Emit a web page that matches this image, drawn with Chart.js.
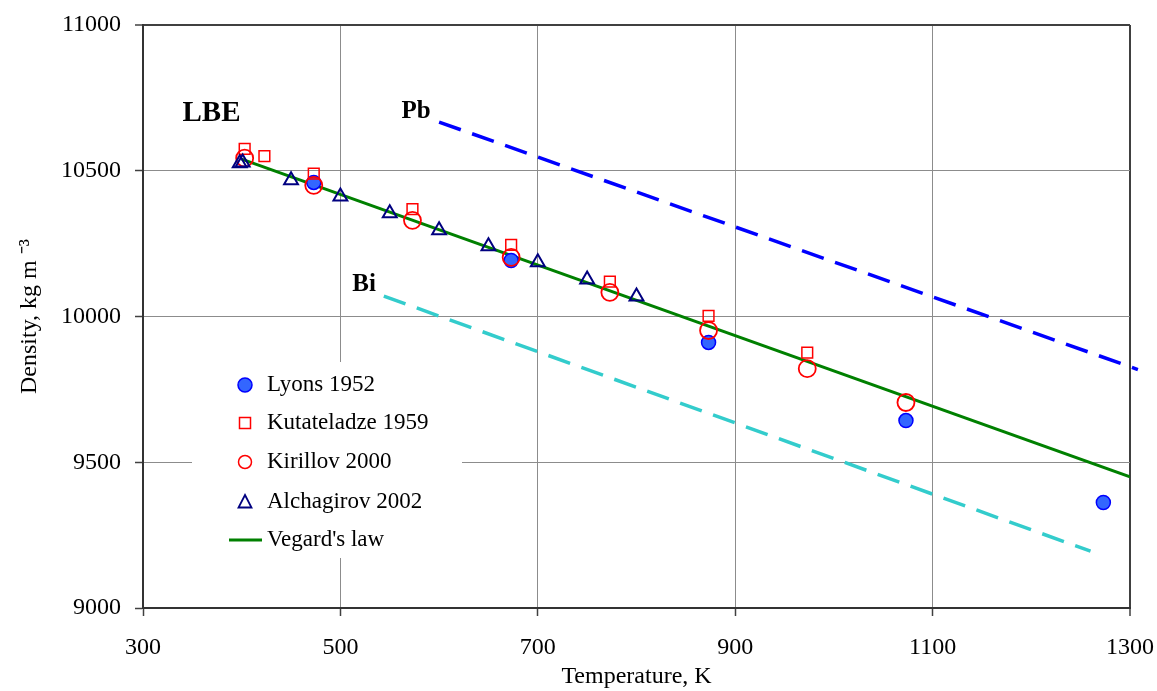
<!DOCTYPE html>
<html>
<head>
<meta charset="utf-8">
<script src="https://cdn.jsdelivr.net/npm/chart.js@4.4.1/dist/chart.umd.min.js"></script>
<style>
  html, body { margin: 0; padding: 0; background: #ffffff; }
  #caja { width: 1157px; height: 691px; }
</style>
</head>
<body>
<div id="caja"><canvas id="graficaDensidad" width="1157" height="691"></canvas></div>
<script>
// Datos (temperatura en K, densidad en kg/m3)
const lyonsT = [473, 673, 873, 1073, 1273];
const lyonsRho = [10460, 10192, 9911, 9643, 9362];

const kutateladzeT = [403, 423, 473, 573, 673, 773, 873, 973];
const kutateladzeRho = [10575, 10550, 10490, 10368, 10246, 10120, 10002, 9876];

const kirillovT = [403, 473, 573, 673, 773, 873, 973, 1073];
const kirillovRho = [10543, 10450, 10330, 10203, 10083, 9952, 9821, 9705];

const alchagirovT = [398, 401, 450, 500, 550, 600, 650, 700, 750, 800];
const alchagirovRho = [10526, 10528, 10467, 10412, 10354, 10296, 10241, 10186, 10127, 10069];

const vegardT = [400, 1300];
const vegardRho = [10540, 9450];

const pbT = [600, 1308];
const pbRho = [10667, 9818];

const biT = [544, 1260];
const biRho = [10070, 9195];

const ticksX = [300, 500, 700, 900, 1100, 1300];
const ticksY = [9000, 9500, 10000, 10500, 11000];

// Etiquetas dentro de la gráfica
const etiquetas = [
  { texto: "LBE", t: 340, rho: 10670, tam: 29 },
  { texto: "Pb", t: 562, rho: 10680, tam: 25 },
  { texto: "Bi", t: 512, rho: 10086, tam: 25 }
];

const nombres = ["Lyons 1952", "Kutateladze 1959", "Kirillov 2000", "Alchagirov 2002", "Vegard's law"];

const fuente = "'Liberation Serif', 'Times New Roman', serif";

function puntos(xs, ys) {
  return xs.map((x, i) => ({ x: x, y: ys[i] }));
}

/* LEYENDA */
function circulo(ctx, x, y, r, relleno, borde, ancho) {
  ctx.beginPath();
  ctx.arc(x, y, r, 0, Math.PI * 2);
  if (relleno) { ctx.fillStyle = relleno; ctx.fill(); }
  ctx.lineWidth = ancho;
  ctx.strokeStyle = borde;
  ctx.stroke();
}

const leyenda = {
  id: "leyenda",
  beforeDatasetsDraw(chart) {
    const ctx = chart.ctx;
    ctx.save();
    ctx.fillStyle = "#ffffff";
    ctx.fillRect(192, 362, 270, 196);

    const filas = [385, 423, 462, 502, 540];
    const mx = 245;

    circulo(ctx, mx, filas[0], 7, "#3366ff", "#0000ff", 1.5);

    ctx.lineWidth = 1.5;
    ctx.strokeStyle = "#ff0000";
    ctx.strokeRect(mx - 5.5, filas[1] - 5.5, 11, 11);

    circulo(ctx, mx, filas[2], 6.5, null, "#ff0000", 1.5);

    ctx.beginPath();
    ctx.moveTo(mx, filas[3] - 7);
    ctx.lineTo(mx + 6.5, filas[3] + 5.5);
    ctx.lineTo(mx - 6.5, filas[3] + 5.5);
    ctx.closePath();
    ctx.lineWidth = 1.8;
    ctx.strokeStyle = "#000080";
    ctx.stroke();

    ctx.beginPath();
    ctx.moveTo(229, filas[4]);
    ctx.lineTo(262, filas[4]);
    ctx.lineWidth = 3;
    ctx.strokeStyle = "#008000";
    ctx.stroke();

    ctx.fillStyle = "#000000";
    ctx.font = "23px " + fuente;
    ctx.textBaseline = "middle";
    ctx.textAlign = "left";
    nombres.forEach((n, i) => ctx.fillText(n, 267, filas[i]));
    ctx.restore();
  },
  afterDatasetsDraw(chart) {
    const ctx = chart.ctx;
    const sx = chart.scales.x;
    const sy = chart.scales.y;
    ctx.save();
    ctx.fillStyle = "#000000";
    ctx.textBaseline = "alphabetic";
    ctx.textAlign = "left";
    etiquetas.forEach(e => {
      ctx.font = "bold " + e.tam + "px " + fuente;
      ctx.fillText(e.texto, sx.getPixelForValue(e.t), sy.getPixelForValue(e.rho));
    });
    ctx.restore();
  }
};

/* GRÁFICA */
const ctx = document.getElementById("graficaDensidad");

new Chart(ctx, {
  type: "scatter",
  data: {
    datasets: [
      {
        label: "Alchagirov 2002",
        data: puntos(alchagirovT, alchagirovRho),
        pointStyle: "triangle",
        pointRadius: 8,
        pointBackgroundColor: "rgba(0,0,0,0)",
        pointBorderColor: "#000080",
        pointBorderWidth: 2,
        order: 1
      },
      {
        label: "Kirillov 2000",
        data: puntos(kirillovT, kirillovRho),
        pointStyle: "circle",
        pointRadius: 8.5,
        pointBackgroundColor: "rgba(0,0,0,0)",
        pointBorderColor: "#ff0000",
        pointBorderWidth: 1.8,
        order: 2
      },
      {
        label: "Kutateladze 1959",
        data: puntos(kutateladzeT, kutateladzeRho),
        pointStyle: "rect",
        pointRadius: 7.6,
        pointBackgroundColor: "rgba(0,0,0,0)",
        pointBorderColor: "#ff0000",
        pointBorderWidth: 1.5,
        order: 3
      },
      {
        label: "Lyons 1952",
        data: puntos(lyonsT, lyonsRho),
        pointStyle: "circle",
        pointRadius: 7,
        pointBackgroundColor: "#3366ff",
        pointBorderColor: "#0000ff",
        pointBorderWidth: 1.5,
        order: 4
      },
      {
        label: "Vegard's law",
        data: puntos(vegardT, vegardRho),
        showLine: true,
        borderColor: "#008000",
        borderWidth: 3,
        pointRadius: 0,
        order: 5
      },
      {
        label: "Pb",
        data: puntos(pbT, pbRho),
        showLine: true,
        borderColor: "#0000ff",
        borderWidth: 3.5,
        borderDash: [23, 12],
        pointRadius: 0,
        clip: false,
        order: 6
      },
      {
        label: "Bi",
        data: puntos(biT, biRho),
        showLine: true,
        borderColor: "#33cccc",
        borderWidth: 3.5,
        borderDash: [23, 12],
        pointRadius: 0,
        order: 7
      }
    ]
  },
  options: {
    responsive: false,
    animation: false,
    layout: { padding: { top: 25, right: 27, left: 0, bottom: 0 } },
    plugins: {
      legend: { display: false },
      tooltip: { enabled: false }
    },
    scales: {
      x: {
        type: "linear",
        min: ticksX[0],
        max: ticksX[ticksX.length - 1],
        afterBuildTicks: s => { s.ticks = ticksX.map(v => ({ value: v })); },
        afterFit: s => {
          s.height = 83;
          s.paddingLeft = 0;
          s.paddingRight = 0;
        },
        ticks: {
          color: "#000000",
          font: { family: fuente, size: 24 },
          padding: 17,
          maxRotation: 0,
          autoSkip: false,
          callback: v => String(v)
        },
        grid: {
          color: c => (c.tick && c.tick.value === 1300) ? "#404040" : "#8c8c8c",
          lineWidth: c => (c.tick && c.tick.value === 1300) ? 2 : 1,
          tickColor: "#404040",
          tickLength: 8,
          tickWidth: 1.5
        },
        border: { color: "#333333", width: 2 },
        title: {
          display: true,
          text: "Temperature, K",
          color: "#000000",
          font: { family: fuente, size: 24 },
          padding: { top: 0, bottom: 0 }
        }
      },
      y: {
        type: "linear",
        min: ticksY[0],
        max: ticksY[ticksY.length - 1],
        afterBuildTicks: s => { s.ticks = ticksY.map(v => ({ value: v })); },
        afterFit: s => {
          s.width = 143;
          s.paddingTop = 0;
          s.paddingBottom = 0;
        },
        ticks: {
          color: "#000000",
          font: { family: fuente, size: 24 },
          padding: 14,
          callback: v => String(v)
        },
        grid: {
          color: c => (c.tick && c.tick.value === 11000) ? "#404040" : "#8c8c8c",
          lineWidth: c => (c.tick && c.tick.value === 11000) ? 2 : 1,
          tickColor: "#404040",
          tickLength: 8,
          tickWidth: 1.5
        },
        border: { color: "#333333", width: 2 },
        title: {
          display: true,
          text: "Density, kg m ⁻³",
          color: "#000000",
          font: { family: fuente, size: 24 },
          padding: { top: 15, bottom: 0 }
        }
      }
    }
  },
  plugins: [leyenda]
});
</script>
</body>
</html>
